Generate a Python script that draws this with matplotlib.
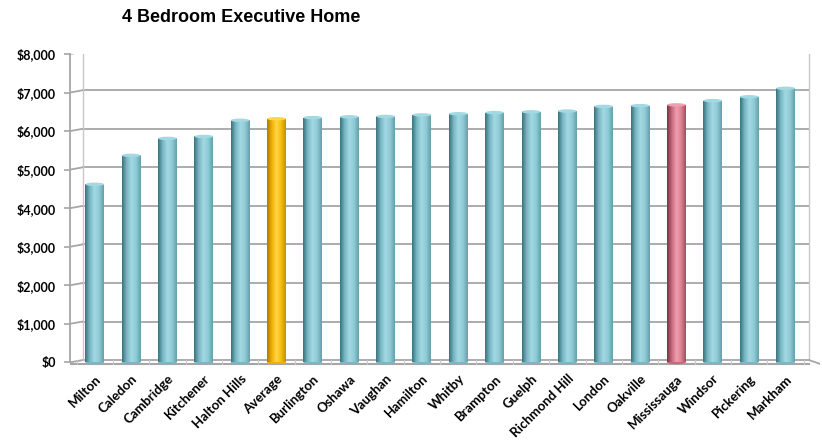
import numpy as np
import matplotlib.pyplot as plt
from matplotlib.patches import Ellipse
from matplotlib.colors import LinearSegmentedColormap
from matplotlib.ticker import FuncFormatter

# data
cities = ['Milton', 'Caledon', 'Cambridge', 'Kitchener', 'Halton Hills', 'Average',
          'Burlington', 'Oshawa', 'Vaughan', 'Hamilton', 'Whitby', 'Brampton',
          'Guelph', 'Richmond Hill', 'London', 'Oakville', 'Mississauga',
          'Windsor', 'Pickering', 'Markham']
costs = [4620, 5370, 5810, 5860, 6280, 6320, 6350, 6370, 6380, 6420, 6450,
         6480, 6500, 6520, 6640, 6660, 6680, 6790, 6890, 7110]
yticks = [0, 1000, 2000, 3000, 4000, 5000, 6000, 7000, 8000]

# colours for the cylinders: (dark edge, light, mid)
teal = ['#3a727e', '#78b8c4', '#a3d9e3', '#8fcad5', '#669fab']
gold = ['#b07a00', '#f0b000', '#ffd64a', '#f5bd10', '#c98f00']
pink = ['#7a3445', '#c9687c', '#eea0b0', '#dc8294', '#a24e60']

fig = plt.figure(figsize=(8.22, 4.43), dpi=100)
ax = fig.add_axes([70/822, 1-367/443, 750/822, 313/443])

x = np.arange(len(cities))
bw = 0.52
grad = np.linspace(0, 1, 64).reshape(1, -1)

# back wall gridlines + side wall diagonals
gray = '#a6a6a6'
wall_x = -0.33
for v in yticks:
    ax.plot([wall_x, 19.65], [v + 60, v + 60], color=gray, lw=1.3, zorder=1)
    ax.plot([-0.68, wall_x], [v, v + 60], color=gray, lw=1.3, zorder=1)
ax.plot([wall_x, wall_x], [60, 8060], color='#c8c8c8', lw=1, zorder=1)
ax.plot([19.65, 19.65], [60, 8060], color='#c8c8c8', lw=1, zorder=1)
# floor
ax.plot([-0.68, 19.65], [-40, -40], color=gray, lw=1.5, zorder=1)
ax.plot([19.65, 19.95], [60, -40], color=gray, lw=1.3, zorder=1)
for i in range(len(cities) + 1):
    ax.plot([i - 0.5, i - 0.5], [-40, 60], color='#c8c8c8', lw=0.8, zorder=1)

for i, v in enumerate(costs):
    name = cities[i]
    cols = gold if name == 'Average' else pink if name == 'Mississauga' else teal
    cmap = LinearSegmentedColormap.from_list('c', cols)
    bar = ax.bar(x[i], v, width=bw, color='none', zorder=3)[0]
    im = ax.imshow(grad, extent=[x[i] - bw/2, x[i] + bw/2, 0, v], cmap=cmap,
                   aspect='auto', zorder=3)
    im.set_clip_path(bar)
    ax.add_patch(Ellipse((x[i], v), bw, 90, facecolor=cols[2],
                         edgecolor='none', zorder=4))
    ax.add_patch(Ellipse((x[i], 0), bw, 90, facecolor=cols[1],
                         edgecolor='none', zorder=2.9))

ax.set_xlim(-0.68, 19.95)
ax.set_ylim(-120, 8000)
ax.set_xticks(x)
ax.set_xticklabels(cities, rotation=45, ha='right', rotation_mode='anchor',
                   fontsize=9.5, fontweight='bold', family='Lato')
ax.set_yticks(yticks)
ax.yaxis.set_major_formatter(FuncFormatter(lambda v, p: '${:,.0f}'.format(v)))
for lab in ax.get_yticklabels():
    lab.set_fontweight('bold')
    lab.set_family('Lato')
    lab.set_fontsize(9)
ax.tick_params(axis='y', length=4, color=gray, width=1.2, pad=6)
ax.tick_params(axis='x', length=0, pad=4)
for s in ['top', 'right', 'bottom']:
    ax.spines[s].set_visible(False)
ax.spines['left'].set_color(gray)
ax.spines['left'].set_linewidth(1.3)
ax.spines['left'].set_bounds(0, 8000)

fig.text(122/822, 1-17/443, '4 Bedroom Executive Home', fontsize=13,
         fontweight='bold', family='Liberation Sans', va='center', ha='left')

fig.savefig('out.png', dpi=100)
